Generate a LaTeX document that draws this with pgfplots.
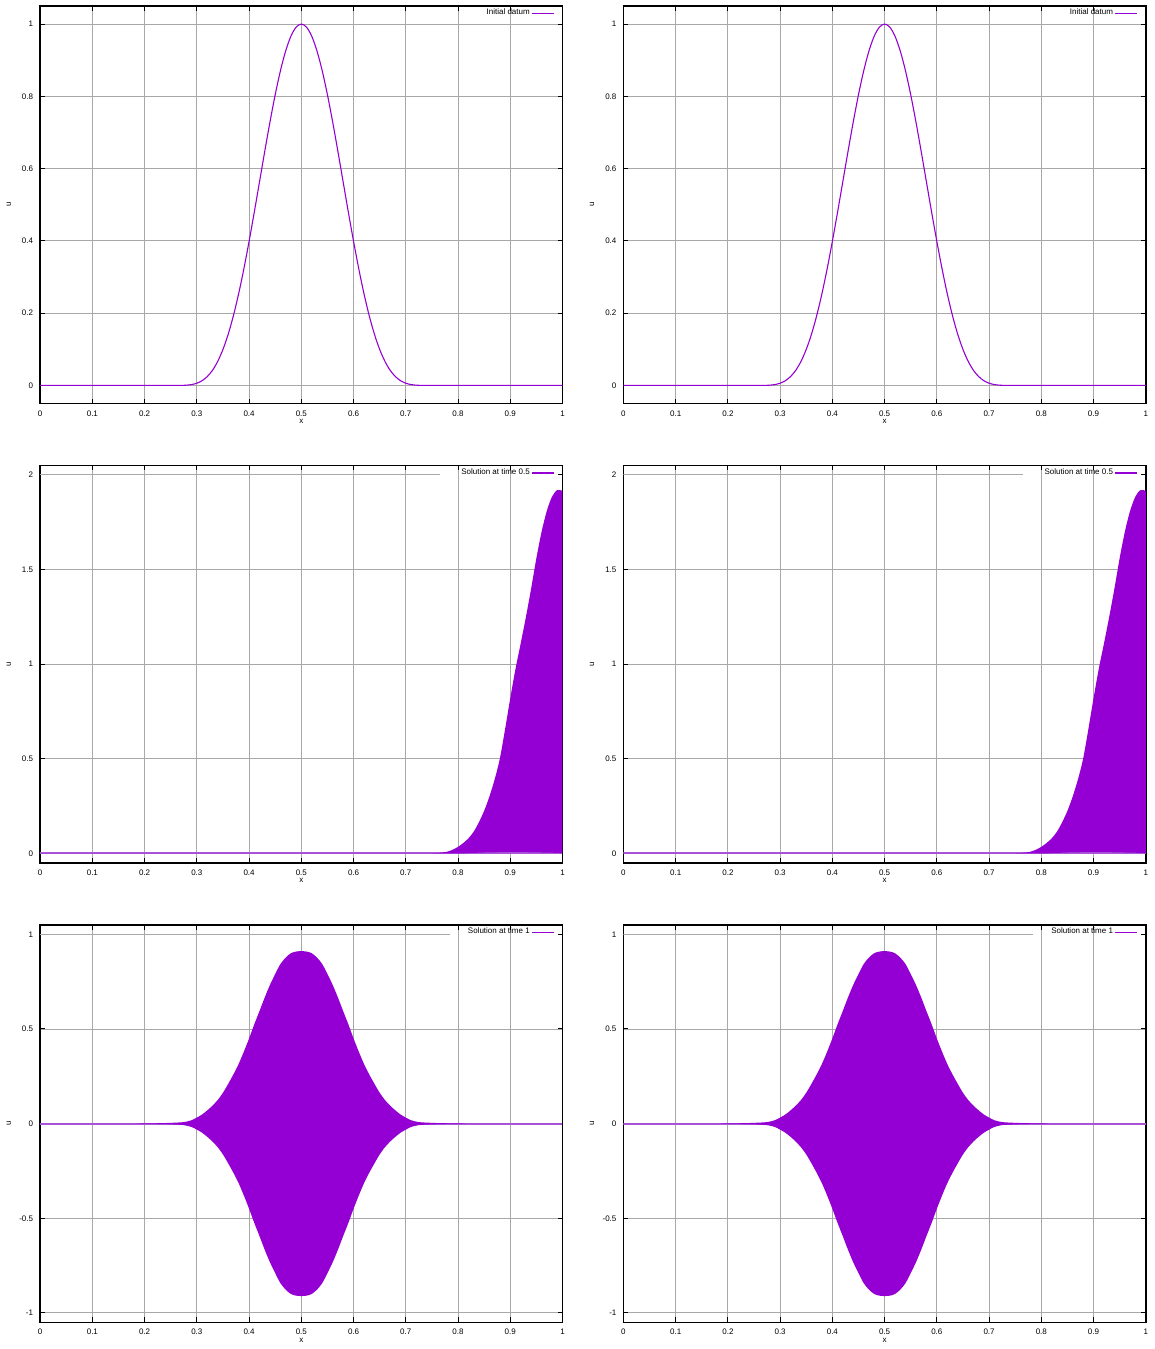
\documentclass[border=0pt]{standalone}
\usepackage{fontspec}
\setmainfont{Liberation Sans}
\usepackage{pgfplots}
\pgfplotsset{compat=1.18}
\usepackage{pgfplotstable}
\usepgfplotslibrary{fillbetween}

\definecolor{vio}{HTML}{9400D3}
\definecolor{viobase}{HTML}{AA58D8}
\definecolor{gridgray}{HTML}{A8A8A8}

% initial datum
\pgfplotstableread{
x u
0 0
0.25 0
0.26 0
0.27 0.0001
0.28 0.0007
0.29 0.0024
0.30 0.0061
0.31 0.0131
0.32 0.0246
0.33 0.0420
0.34 0.0667
0.35 0.0997
0.36 0.1416
0.37 0.1930
0.38 0.2536
0.39 0.3226
0.40 0.3987
0.41 0.4798
0.42 0.5638
0.43 0.6479
0.44 0.7291
0.45 0.8044
0.46 0.8707
0.47 0.9254
0.48 0.9662
0.49 0.9914
0.50 1
0.51 0.9914
0.52 0.9662
0.53 0.9254
0.54 0.8707
0.55 0.8044
0.56 0.7291
0.57 0.6479
0.58 0.5638
0.59 0.4798
0.60 0.3987
0.61 0.3226
0.62 0.2536
0.63 0.1930
0.64 0.1416
0.65 0.0997
0.66 0.0667
0.67 0.0420
0.68 0.0246
0.69 0.0131
0.70 0.0061
0.71 0.0024
0.72 0.0007
0.73 0.0001
0.74 0
0.75 0
1 0
}\initdatum

% solution at time 0.5: envelope of the oscillation
\pgfplotstableread{
x up lo
0 0 0
0.70 0 0
0.75 0.001 0
0.77 0.005 0
0.78 0.01 0
0.79 0.02 0
0.80 0.035 0
0.81 0.055 0
0.82 0.08 0.002
0.83 0.115 0.003
0.84 0.165 0.004
0.85 0.225 0.005
0.86 0.30 0.006
0.87 0.39 0.006
0.88 0.50 0.007
0.89 0.655 0.007
0.90 0.82 0.007
0.91 0.975 0.007
0.92 1.11 0.007
0.93 1.25 0.007
0.94 1.40 0.006
0.95 1.56 0.006
0.96 1.70 0.005
0.97 1.81 0.005
0.98 1.885 0.004
0.99 1.92 0.003
1.00 1.915 0.002
}\solhalf

% solution at time 1: envelope of the oscillation
\pgfplotstableread{
x up lo
0 0 0
0.15 0 0
0.20 0.001 -0.001
0.225 0.002 -0.002
0.25 0.004 -0.004
0.275 0.008 -0.008
0.29 0.018 -0.018
0.30 0.032 -0.032
0.31 0.048 -0.048
0.32 0.07 -0.07
0.33 0.095 -0.095
0.34 0.125 -0.125
0.35 0.163 -0.163
0.36 0.21 -0.21
0.37 0.26 -0.26
0.38 0.315 -0.315
0.39 0.38 -0.38
0.40 0.45 -0.45
0.41 0.525 -0.525
0.42 0.595 -0.595
0.43 0.667 -0.667
0.44 0.733 -0.733
0.45 0.79 -0.79
0.46 0.843 -0.843
0.47 0.877 -0.877
0.48 0.90 -0.90
0.49 0.909 -0.909
0.50 0.911 -0.911
0.51 0.909 -0.909
0.52 0.90 -0.90
0.53 0.877 -0.877
0.54 0.843 -0.843
0.55 0.79 -0.79
0.56 0.733 -0.733
0.57 0.667 -0.667
0.58 0.595 -0.595
0.59 0.525 -0.525
0.60 0.45 -0.45
0.61 0.38 -0.38
0.62 0.315 -0.315
0.63 0.26 -0.26
0.64 0.21 -0.21
0.65 0.163 -0.163
0.66 0.125 -0.125
0.67 0.095 -0.095
0.68 0.07 -0.07
0.69 0.048 -0.048
0.70 0.032 -0.032
0.71 0.018 -0.018
0.725 0.008 -0.008
0.75 0.004 -0.004
0.775 0.002 -0.002
0.80 0.001 -0.001
0.85 0 0
1 0 0
}\solone

\tikzset{fill between/on layer=main}
\pgfplotsset{
  panel/.style={
    scale only axis, width=261.5pt, height=199pt, anchor=north west,
    xmin=0, xmax=1,
    xtick={0,0.1,0.2,0.3,0.4,0.5,0.6,0.7,0.8,0.9,1},
    grid=major, major grid style={gridgray, line width=0.45pt},
    axis line style={line width=0.8pt},
    tick pos=both, tick align=inside, major tick length=2.5pt,
    tick style={black, line width=0.5pt},
    font=\fontsize{4}{5}\selectfont,
    tick label style={font=\fontsize{4}{5}\selectfont},
    /pgf/number format/assume math mode=true,
    xlabel={x}, ylabel={u},
    xlabel style={at={(axis description cs:0.5,-0.045)}, anchor=center},
    ylabel style={at={(axis description cs:-0.060,0.5)}, anchor=center},
    legend style={draw=none, fill=none, at={(axis description cs:0.9847,0.981)},
      anchor=east, inner sep=0pt, font=\fontsize{4}{5}\selectfont,
      nodes={inner sep=0.6pt}},
    legend plot pos=right,
    legend image code/.code={\draw[vio, line width=0.6pt] (0pt,0pt) -- (11pt,0pt);},
  },
  rowone/.style={panel, ymin=-0.05, ymax=1.05, ytick={0,0.2,0.4,0.6,0.8,1}},
  rowtwo/.style={panel, ymin=-0.05, ymax=2.05, ytick={0,0.5,1,1.5},
    extra y ticks={2}, extra y tick style={grid=none}},
  rowthree/.style={panel, ymin=-1.05, ymax=1.05, ytick={-1,-0.5,0,0.5},
    extra y ticks={1}, extra y tick style={grid=none}},
}

\begin{document}
\begin{tikzpicture}
\path (0,0) rectangle (575pt,-674.5pt);

% ---- row 1: initial datum ----
\begin{axis}[rowone, at={(19.75pt,-3pt)}]
\addplot[vio, line width=0.55pt, smooth, forget plot] table[x=x, y=u] {\initdatum};
\addlegendimage{vio}
\addlegendentry{Initial datum}
\end{axis}
\begin{axis}[rowone, at={(311.75pt,-3pt)}]
\addplot[vio, line width=0.55pt, smooth, forget plot] table[x=x, y=u] {\initdatum};
\addlegendimage{vio}
\addlegendentry{Initial datum}
\end{axis}

% ---- row 2: solution at time 0.5 ----
\begin{axis}[rowtwo, at={(19.75pt,-233pt)}]
\addplot[gridgray, line width=0.45pt, forget plot] coordinates {(0,2) (0.765,2)};
\addplot[viobase, line width=1pt, forget plot] coordinates {(0,0) (1,0)};
\addplot[name path=upa, draw=none, smooth, forget plot] table[x=x, y=up] {\solhalf};
\addplot[name path=loa, draw=none, forget plot] table[x=x, y=lo] {\solhalf};
\addplot[vio, forget plot] fill between[of=upa and loa];
\addlegendimage{vio}
\addlegendentry{Solution at time 0.5}
\end{axis}
\begin{axis}[rowtwo, at={(311.75pt,-233pt)}]
\addplot[gridgray, line width=0.45pt, forget plot] coordinates {(0,2) (0.765,2)};
\addplot[viobase, line width=1pt, forget plot] coordinates {(0,0) (1,0)};
\addplot[name path=upb, draw=none, smooth, forget plot] table[x=x, y=up] {\solhalf};
\addplot[name path=lob, draw=none, forget plot] table[x=x, y=lo] {\solhalf};
\addplot[vio, forget plot] fill between[of=upb and lob];
\addlegendimage{vio}
\addlegendentry{Solution at time 0.5}
\end{axis}

% ---- row 3: solution at time 1 ----
\begin{axis}[rowthree, at={(19.75pt,-463pt)}]
\addplot[gridgray, line width=0.45pt, forget plot] coordinates {(0,1) (0.784,1)};
\addplot[viobase, line width=1pt, forget plot] coordinates {(0,0) (1,0)};
\addplot[name path=upc, draw=none, smooth, forget plot] table[x=x, y=up] {\solone};
\addplot[name path=loc, draw=none, smooth, forget plot] table[x=x, y=lo] {\solone};
\addplot[vio, forget plot] fill between[of=upc and loc];
\addlegendimage{vio}
\addlegendentry{Solution at time 1}
\end{axis}
\begin{axis}[rowthree, at={(311.75pt,-463pt)}]
\addplot[gridgray, line width=0.45pt, forget plot] coordinates {(0,1) (0.784,1)};
\addplot[viobase, line width=1pt, forget plot] coordinates {(0,0) (1,0)};
\addplot[name path=upd, draw=none, smooth, forget plot] table[x=x, y=up] {\solone};
\addplot[name path=lod, draw=none, smooth, forget plot] table[x=x, y=lo] {\solone};
\addplot[vio, forget plot] fill between[of=upd and lod];
\addlegendimage{vio}
\addlegendentry{Solution at time 1}
\end{axis}
\end{tikzpicture}
\end{document}
